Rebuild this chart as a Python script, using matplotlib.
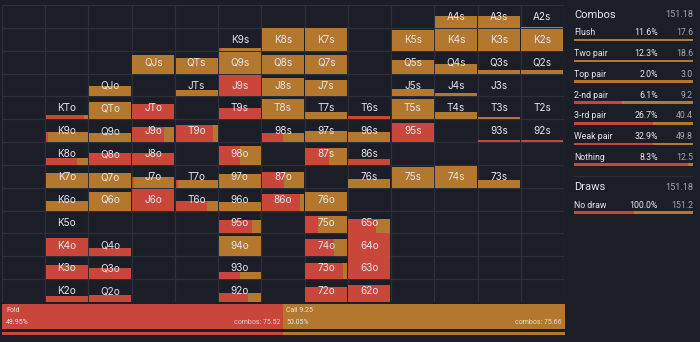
import matplotlib
matplotlib.use("Agg")
import matplotlib.pyplot as plt

plt.rcParams['font.family'] = ['Inter', 'DejaVu Sans']
PANEL_FONT = ['Roboto', 'DejaVu Sans']

# ---------------- data ----------------
ranks = "AKQJT98765432"
hands = ["A4s", "A3s", "A2s",
         "K9s", "K8s", "K7s", "K5s", "K4s", "K3s", "K2s",
         "QJs", "QTs", "Q9s", "Q8s", "Q7s", "Q5s", "Q4s", "Q3s", "Q2s",
         "QJo", "JTs", "J9s", "J8s", "J7s", "J5s", "J4s", "J3s",
         "KTo", "QTo", "JTo", "T9s", "T8s", "T7s", "T6s", "T5s", "T4s", "T3s", "T2s",
         "K9o", "Q9o", "J9o", "T9o", "98s", "97s", "96s", "95s", "93s", "92s",
         "K8o", "Q8o", "J8o", "98o", "87s", "86s",
         "K7o", "Q7o", "J7o", "T7o", "97o", "87o", "76s", "75s", "74s", "73s",
         "K6o", "Q6o", "J6o", "T6o", "96o", "86o", "76o",
         "K5o", "95o", "75o", "65o",
         "K4o", "Q4o", "94o", "74o", "64o",
         "K3o", "Q3o", "93o", "73o", "63o",
         "K2o", "Q2o", "92o", "72o", "62o"]
weights = [0.50, 0.52, 0.04,
           0.10, 1.00, 1.00, 0.90, 0.97, 0.95, 0.95,
           0.80, 0.68, 0.93, 0.80, 0.80, 0.60, 0.43, 0.16, 0.16,
           0.44, 0.26, 0.92, 0.82, 0.73, 0.34, 0.15, 0.03,
           0.17, 0.75, 0.65, 0.50, 0.87, 0.30, 0.15, 0.87, 0.33, 0.10, 0.03,
           0.43, 0.40, 0.64, 0.74, 0.38, 0.50, 0.45, 0.85, 0.08, 0.08,
           0.29, 0.54, 0.54, 0.83, 0.73, 0.25,
           0.63, 0.63, 0.47, 0.33, 0.60, 0.68, 0.37, 0.90, 0.95, 0.33,
           0.40, 0.80, 0.95, 0.40, 0.37, 0.72, 0.80,
           0.03, 0.57, 0.78, 0.65,
           0.80, 0.36, 0.88, 0.74, 1.00,
           0.63, 0.47, 0.30, 0.70, 1.00,
           0.25, 0.29, 0.40, 0.65, 0.75]
fold_share = [0, 0, 0,
              0.05, 0, 0, 0, 0, 0, 0,
              0, 0, 0, 0, 0, 0, 0, 0, 0,
              0, 0, 1, 0, 0, 0, 0, 0,
              0.9, 0, 1, 1, 0, 0, 1, 0, 0, 0, 0,
              0.05, 0, 0.75, 0.9, 0.5, 0, 0, 1, 1, 1,
              0.75, 1, 1, 0.5, 0.57, 1,
              0, 0, 0.05, 0.05, 0, 0.53, 0, 0, 0, 0,
              0, 0, 1, 0.75, 0, 0.9, 0,
              0, 0.8, 0.3, 0.65,
              1, 1, 0, 0.68, 1,
              1, 1, 0.5, 0.9, 1,
              1, 1, 0.7, 1, 1]

fold_combos = 75.52
call_combos = 75.66
fold_pct = "49.95%"
call_pct = "50.05%"
call_label = "Call 9.25"

combo_cats = ["Flush", "Two pair", "Top pair", "2-nd pair", "3-rd pair", "Weak pair", "Nothing"]
combo_pcts = ["11.6%", "12.3%", "2.0%", "6.1%", "26.7%", "32.9%", "8.3%"]
combo_vals = ["17.6", "18.6", "3.0", "9.2", "40.4", "49.8", "12.5"]
combo_fold = [0.0, 0.0, 0.0, 0.40, 0.66, 0.66, 0.96]
combos_total = "151.18"

draw_cats = ["No draw"]
draw_pcts = ["100.0%"]
draw_vals = ["151.2"]
draw_fold = [0.50]
draws_total = "151.18"

# ---------------- style ----------------
BG = "#1b1e27"
GRID = "#2b2f3b"
RED = "#c8473a"
ORANGE = "#b3772d"
TXT = "#e4e5ec"
SUB = "#a3a7b3"

W, H = 700, 342
fig = plt.figure(figsize=(W / 100, H / 100), dpi=100, facecolor=BG)

# ---------------- grid ----------------
ax = fig.add_axes([2 / W, (H - 302) / H, 562 / W, 297 / H])
ax.set_facecolor(BG)
ax.set_xlim(0, 13)
ax.set_ylim(0, 13)
ax.axis("off")
for k in range(14):
    ax.axvline(k, color=GRID, lw=0.9, zorder=1)
    ax.axhline(k, color=GRID, lw=0.9, zorder=1)

gap = 0.015
for h, w, f in zip(hands, weights, fold_share):
    r1, r2 = ranks.index(h[0]), ranks.index(h[1])
    if h[2] == "s":
        row, col = r1, r2
    else:
        row, col = r2, r1
    y0 = 12 - row
    x0 = col + gap
    cw = 1 - 2 * gap
    if f > 0:
        ax.bar(x0, w, width=cw * f, bottom=y0, align="edge", color=RED, lw=0, zorder=2)
    if f < 1:
        ax.bar(x0 + cw * f, w, width=cw * (1 - f), bottom=y0, align="edge", color=ORANGE, lw=0, zorder=2)
    ax.text(col + 0.5, y0 + 0.47, h, ha="center", va="center", color=TXT, fontsize=7.2, zorder=3)

# ---------------- bottom summary bar ----------------
total = fold_combos + call_combos
bx = fig.add_axes([2 / W, (H - 336) / H, 563 / W, 32 / H])
bx.set_facecolor(BG)
bx.set_xlim(0, total)
bx.set_ylim(32, 0)
bx.axis("off")
px = total / 563
bx.barh(12.5, fold_combos, height=25, left=0, color=RED, lw=0)
bx.barh(12.5, call_combos, height=25, left=fold_combos, color=ORANGE, lw=0)
bx.barh(29.5, fold_combos, height=3, left=0, color=RED, lw=0)
bx.barh(29.5, call_combos, height=3, left=fold_combos, color=ORANGE, lw=0)
fs = 5
bx.text(4 * px, 7, "Fold", color=TXT, fontsize=fs, va="center", ha="left", family=PANEL_FONT)
bx.text(4 * px, 18, fold_pct, color=TXT, fontsize=fs, va="center", ha="left", family=PANEL_FONT)
bx.text(fold_combos - 3 * px, 18, f"combos: {fold_combos:.2f}", color="#e8c8c0", fontsize=fs, va="center", ha="right", family=PANEL_FONT)
bx.text(fold_combos + 3 * px, 7, call_label, color=TXT, fontsize=fs, va="center", ha="left", family=PANEL_FONT)
bx.text(fold_combos + 3 * px, 18, call_pct, color=TXT, fontsize=fs, va="center", ha="left", family=PANEL_FONT)
bx.text(total - 3 * px, 18, f"combos: {call_combos:.2f}", color="#e8d8c0", fontsize=fs, va="center", ha="right", family=PANEL_FONT)

# ---------------- right panel ----------------
rx = fig.add_axes([574 / W, 0, 119 / W, 1])
rx.set_facecolor(BG)
rx.set_xlim(0, 1)
rx.set_ylim(H, 0)
rx.axis("off")

pct_x = (658 - 574) / 119

rx.text(0, 14.5, "Combos", color=TXT, fontsize=8, va="center", ha="left", family=PANEL_FONT)
rx.text(1, 14.5, combos_total, color=SUB, fontsize=6.6, va="center", ha="right", family=PANEL_FONT)
for i, (c, p, v, f) in enumerate(zip(combo_cats, combo_pcts, combo_vals, combo_fold)):
    ty = 32.8 + i * 20.75
    by = ty + 7.4
    rx.text(0, ty, c, color=TXT, fontsize=6.3, va="center", ha="left", family=PANEL_FONT)
    rx.text(pct_x, ty, p, color=TXT, fontsize=6.3, va="center", ha="right", family=PANEL_FONT)
    rx.text(1, ty, v, color=SUB, fontsize=6.3, va="center", ha="right", family=PANEL_FONT)
    if f > 0:
        rx.barh(by, f, height=2.6, left=0, color=RED, lw=0)
    rx.barh(by, 1 - f, height=2.6, left=f, color=ORANGE, lw=0)

rx.axhline(176, color=GRID, lw=0.8)

rx.text(0, 187.5, "Draws", color=TXT, fontsize=8, va="center", ha="left", family=PANEL_FONT)
rx.text(1, 187.5, draws_total, color=SUB, fontsize=6.6, va="center", ha="right", family=PANEL_FONT)
for i, (c, p, v, f) in enumerate(zip(draw_cats, draw_pcts, draw_vals, draw_fold)):
    ty = 205 + i * 20.75
    by = ty + 7.6
    rx.text(0, ty, c, color=TXT, fontsize=6.3, va="center", ha="left", family=PANEL_FONT)
    rx.text(pct_x, ty, p, color=TXT, fontsize=6.3, va="center", ha="right", family=PANEL_FONT)
    rx.text(1, ty, v, color=SUB, fontsize=6.3, va="center", ha="right", family=PANEL_FONT)
    if f > 0:
        rx.barh(by, f, height=2.6, left=0, color=RED, lw=0)
    rx.barh(by, 1 - f, height=2.6, left=f, color=ORANGE, lw=0)

fig.savefig("out.png", dpi=100, facecolor=BG)
